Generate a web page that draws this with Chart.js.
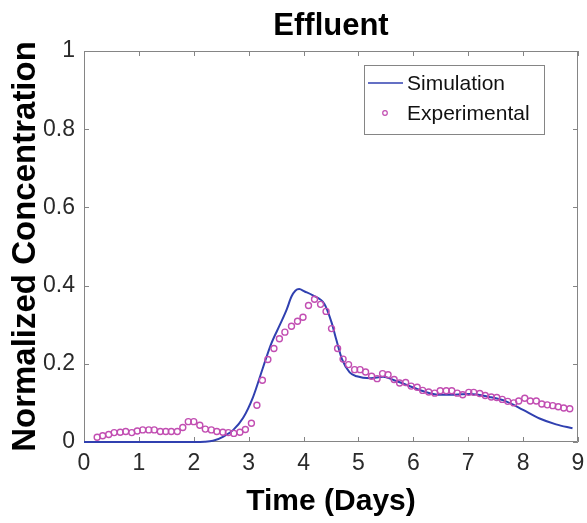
<!DOCTYPE html>
<html>
<head>
<meta charset="utf-8">
<title>Effluent</title>
<script src="https://cdn.jsdelivr.net/npm/chart.js@4"></script>
<style>
  html, body { margin: 0; padding: 0; background: #ffffff; }
  #chart { display: block; }
</style>
</head>
<body>
<canvas id="chart" width="587" height="523"></canvas>
<script>
// Simulated effluent breakthrough curve (days, normalized concentration)
const simDays = [0, 0.5, 1.0, 1.5, 2.0, 2.2, 2.35, 2.54, 2.72, 2.90, 3.08, 3.26, 3.41, 3.57, 3.69, 3.78, 3.85, 3.92, 4.02, 4.17, 4.38, 4.51, 4.60, 4.70, 4.84, 4.97, 5.22, 5.45, 5.65, 5.95, 6.22, 6.45, 6.75, 7.03, 7.39, 7.69, 8.00, 8.30, 8.60, 8.90];
const simConc = [0, 0, 0, 0, 0, 0.0005, 0.003, 0.014, 0.031, 0.062, 0.115, 0.190, 0.251, 0.300, 0.338, 0.372, 0.387, 0.391, 0.385, 0.375, 0.353, 0.306, 0.260, 0.212, 0.178, 0.168, 0.163, 0.167, 0.158, 0.142, 0.128, 0.121, 0.121, 0.123, 0.115, 0.104, 0.082, 0.060, 0.045, 0.035];

// Measured effluent samples
const expDays = [0.24, 0.34, 0.45, 0.55, 0.66, 0.76, 0.87, 0.97, 1.07, 1.18, 1.28, 1.39, 1.49, 1.59, 1.70, 1.80, 1.90, 2.00, 2.11, 2.21, 2.32, 2.42, 2.53, 2.63, 2.73, 2.84, 2.94, 3.05, 3.15, 3.25, 3.35, 3.46, 3.56, 3.66, 3.78, 3.89, 3.99, 4.09, 4.20, 4.31, 4.41, 4.51, 4.62, 4.72, 4.82, 4.93, 5.03, 5.13, 5.24, 5.34, 5.44, 5.54, 5.65, 5.75, 5.86, 5.96, 6.07, 6.17, 6.28, 6.39, 6.49, 6.60, 6.70, 6.80, 6.90, 7.01, 7.10, 7.21, 7.31, 7.42, 7.52, 7.62, 7.72, 7.83, 7.92, 8.03, 8.13, 8.24, 8.34, 8.44, 8.54, 8.64, 8.74, 8.85];
const expConc = [0.012, 0.016, 0.019, 0.024, 0.025, 0.027, 0.024, 0.028, 0.031, 0.031, 0.031, 0.027, 0.027, 0.027, 0.027, 0.037, 0.052, 0.052, 0.043, 0.033, 0.031, 0.027, 0.025, 0.024, 0.022, 0.025, 0.032, 0.048, 0.094, 0.158, 0.211, 0.239, 0.264, 0.281, 0.296, 0.309, 0.319, 0.349, 0.365, 0.352, 0.334, 0.290, 0.239, 0.212, 0.198, 0.185, 0.185, 0.179, 0.168, 0.162, 0.175, 0.172, 0.160, 0.151, 0.152, 0.143, 0.140, 0.132, 0.128, 0.125, 0.131, 0.131, 0.131, 0.125, 0.121, 0.127, 0.127, 0.124, 0.119, 0.115, 0.114, 0.109, 0.104, 0.100, 0.105, 0.112, 0.105, 0.105, 0.097, 0.095, 0.093, 0.090, 0.087, 0.085];

// Axis ticks
const xTicks = [0, 1, 2, 3, 4, 5, 6, 7, 8, 9];
const xTickLabels = ['0', '1', '2', '3', '4', '5', '6', '7', '8', '9'];
const yTicks = [0, 0.2, 0.4, 0.6, 0.8, 1];
const yTickLabels = ['0', '0.2', '0.4', '0.6', '0.8', '1'];

const FONT = "'Liberation Sans', Arial, Helvetica, sans-serif";
const SIM_COLOR = '#3040b0';
const EXP_COLOR = '#c24eb2';
const FRAME_COLOR = '#858585';

// Axes box with inward tick marks on all four sides
const frameBox = {
  id: 'frameBox',
  beforeDatasetsDraw(chart) {
    const { ctx, chartArea: a, scales } = chart;
    const len = 5;
    ctx.save();
    ctx.strokeStyle = FRAME_COLOR;
    ctx.lineWidth = 1;
    ctx.beginPath();
    ctx.rect(a.left + 0.5, a.top + 0.5, a.right - a.left - 1, a.bottom - a.top - 1);
    xTicks.forEach(v => {
      const px = Math.round(scales.x.getPixelForValue(v)) + 0.5;
      ctx.moveTo(px, a.bottom); ctx.lineTo(px, a.bottom - len);
      ctx.moveTo(px, a.top); ctx.lineTo(px, a.top + len);
    });
    yTicks.forEach(v => {
      const py = Math.round(scales.y.getPixelForValue(v)) + 0.5;
      ctx.moveTo(a.left, py); ctx.lineTo(a.left + len, py);
      ctx.moveTo(a.right, py); ctx.lineTo(a.right - len, py);
    });
    ctx.stroke();
    ctx.restore();
  }
};

// Boxed legend in the upper right corner of the plot
const cornerLegend = {
  id: 'cornerLegend',
  afterDraw(chart) {
    const { ctx, chartArea: a } = chart;
    const ds = chart.data.datasets;
    const boxR = a.right - 33, boxT = a.top + 14;
    const boxW = 181, boxH = 70;
    const boxL = boxR - boxW;
    ctx.save();
    ctx.fillStyle = '#ffffff';
    ctx.fillRect(boxL, boxT, boxW, boxH);
    ctx.strokeStyle = FRAME_COLOR;
    ctx.lineWidth = 1;
    ctx.strokeRect(boxL + 0.5, boxT + 0.5, boxW - 1, boxH - 1);

    const row1 = boxT + 18, row2 = boxT + 48;
    // line sample
    ctx.strokeStyle = ds[0].borderColor;
    ctx.lineWidth = 1.5;
    ctx.beginPath();
    ctx.moveTo(boxL + 4, row1); ctx.lineTo(boxL + 39, row1);
    ctx.stroke();
    // marker sample
    ctx.strokeStyle = ds[1].borderColor;
    ctx.lineWidth = 1.2;
    ctx.beginPath();
    ctx.arc(boxL + 21, row2, 2.3, 0, Math.PI * 2);
    ctx.stroke();

    ctx.fillStyle = '#111111';
    ctx.font = '21px ' + FONT;
    ctx.textAlign = 'left';
    ctx.textBaseline = 'middle';
    ctx.fillText(ds[0].label, boxL + 43, row1 + 1);
    ctx.fillText(ds[1].label, boxL + 43, row2 + 1);
    ctx.restore();
  }
};

const chart = new Chart(document.getElementById('chart').getContext('2d'), {
  type: 'scatter',
  data: {
    datasets: [
      {
        label: 'Simulation',
        data: simDays.map((d, i) => ({ x: d, y: simConc[i] })),
        showLine: true,
        borderColor: SIM_COLOR,
        backgroundColor: SIM_COLOR,
        borderWidth: 2,
        pointRadius: 0,
        cubicInterpolationMode: 'monotone',
        fill: false,
        clip: false,
        order: 2
      },
      {
        label: 'Experimental',
        data: expDays.map((d, i) => ({ x: d, y: expConc[i] })),
        showLine: false,
        pointStyle: 'circle',
        pointRadius: 3,
        pointBorderWidth: 1.4,
        borderColor: EXP_COLOR,
        backgroundColor: 'rgba(0,0,0,0)',
        order: 1
      }
    ]
  },
  options: {
    responsive: false,
    animation: false,
    events: [],
    layout: { padding: { left: 0, right: 9, top: 0, bottom: 0 } },
    plugins: {
      legend: { display: false },
      tooltip: { enabled: false },
      title: {
        display: true,
        text: 'Effluent',
        fullSize: false,
        color: '#000000',
        font: { family: FONT, size: 31, weight: 'bold', lineHeight: 1.2 },
        padding: { top: 8, bottom: 5.8 }
      }
    },
    scales: {
      x: {
        type: 'linear',
        min: 0,
        max: 9,
        afterBuildTicks: s => { s.ticks = xTicks.map(v => ({ value: v })); },
        afterFit: s => { s.height = 81; s.paddingLeft = 0; s.paddingRight = 0; },
        grid: { display: false, drawTicks: false },
        border: { display: false },
        ticks: {
          color: '#2a2a2a',
          font: { family: FONT, size: 23 },
          padding: 8,
          maxRotation: 0,
          autoSkip: false,
          callback: (v, i) => xTickLabels[i]
        },
        title: {
          display: true,
          text: 'Time (Days)',
          color: '#000000',
          font: { family: FONT, size: 30, weight: 'bold', lineHeight: 1.2 },
          padding: { top: 0, bottom: 3 }
        }
      },
      y: {
        type: 'linear',
        min: 0,
        max: 1,
        afterBuildTicks: s => { s.ticks = yTicks.map(v => ({ value: v })); },
        afterFit: s => { s.width = 84; s.paddingTop = 0; s.paddingBottom = 0; },
        grid: { display: false, drawTicks: false },
        border: { display: false },
        ticks: {
          color: '#2a2a2a',
          font: { family: FONT, size: 23 },
          padding: 9,
          autoSkip: false,
          callback: (v, i) => yTickLabels[i]
        },
        title: {
          display: true,
          text: 'Normalized Concentration',
          color: '#000000',
          font: { family: FONT, size: 33, weight: 'bold', lineHeight: 1.2 },
          padding: { top: 6, bottom: 0 }
        }
      }
    }
  },
  plugins: [frameBox, cornerLegend]
});
</script>
</body>
</html>
